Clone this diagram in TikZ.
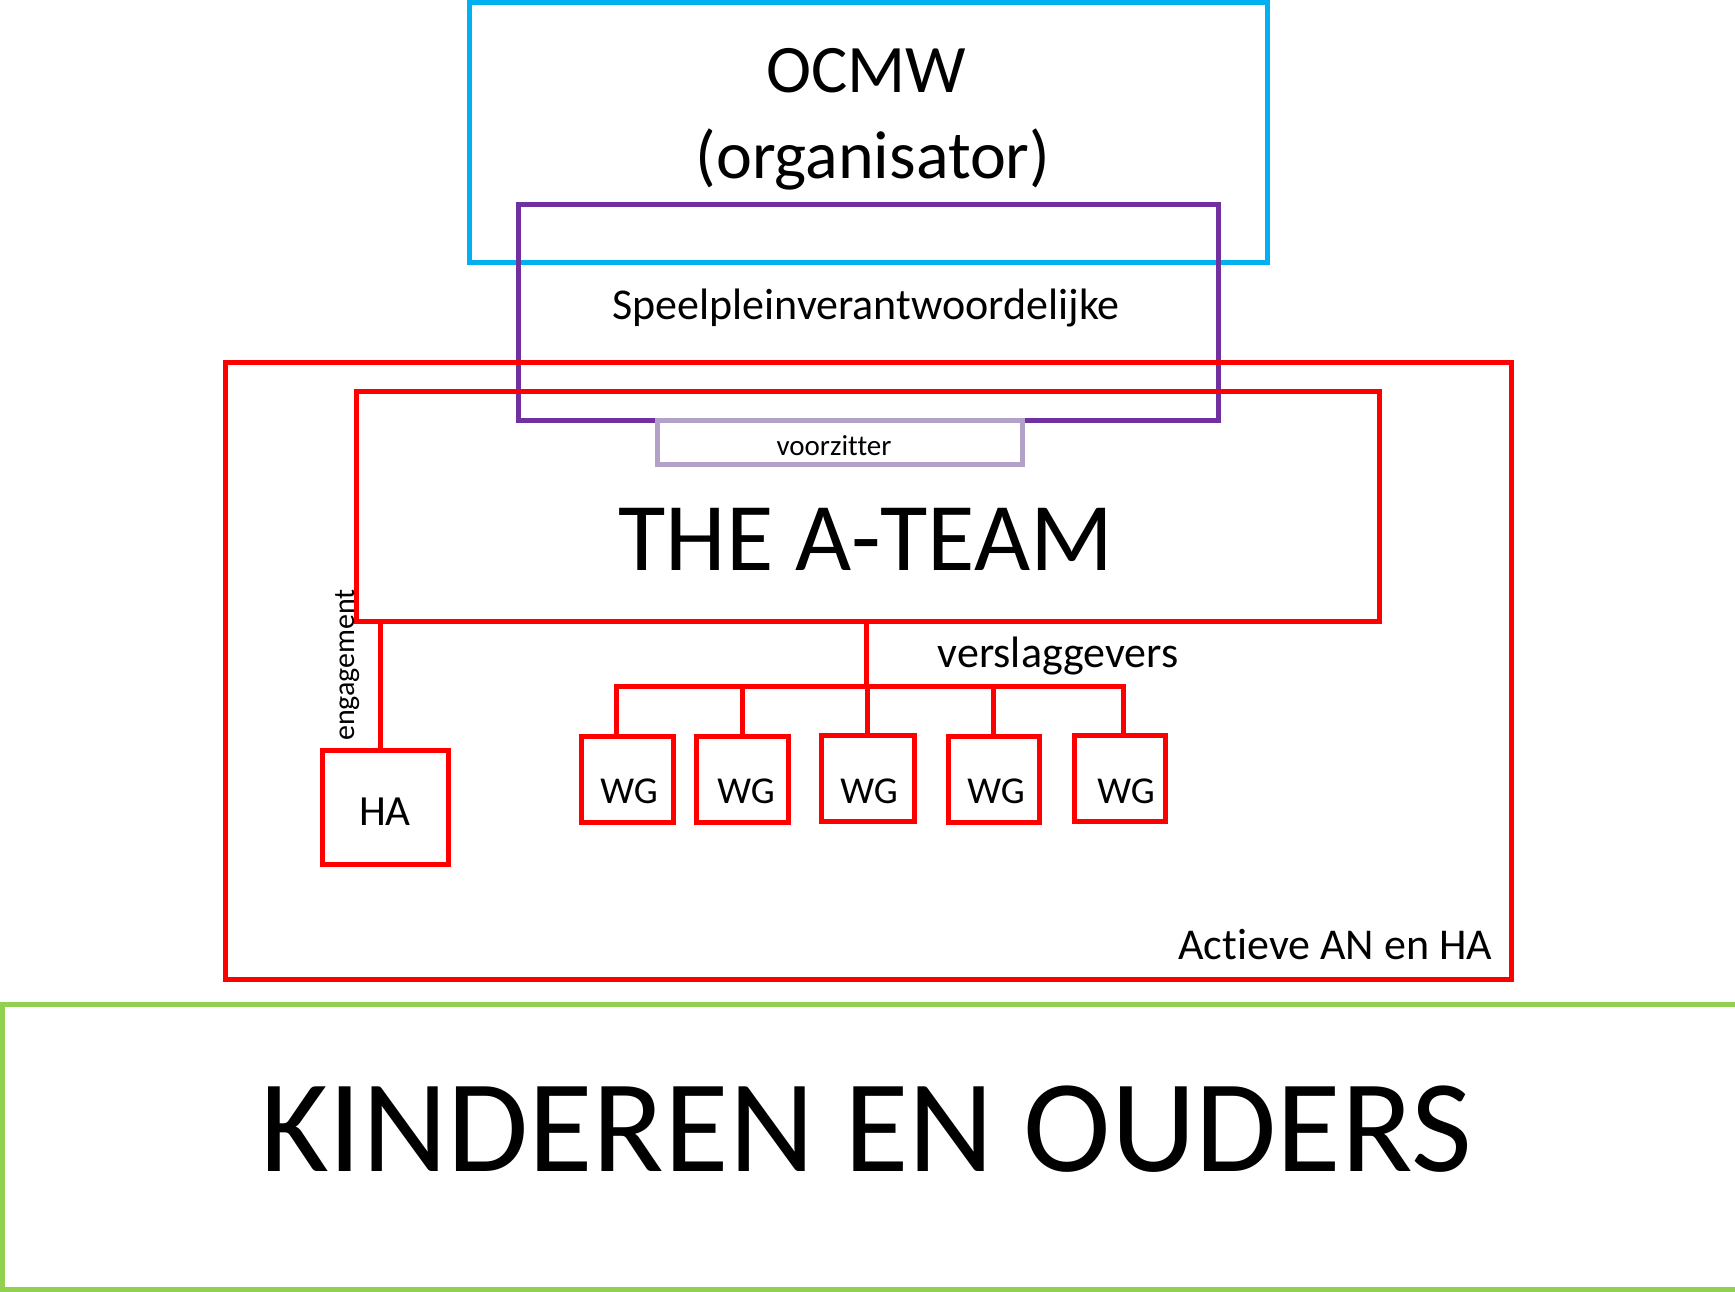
\documentclass[tikz,border=0pt]{standalone}
\usepackage{fontspec}
\setmainfont[Ligatures={NoCommon}]{Carlito}
\usetikzlibrary{calc}
\definecolor{cblue}{HTML}{00B0F0}
\definecolor{cpurple}{HTML}{7030A0}
\definecolor{cred}{HTML}{FF0000}
\definecolor{clilac}{HTML}{B3A2C7}
\definecolor{cgreen}{HTML}{92D050}
\tikzset{
  box/.style={draw=#1, line width=5pt, inner sep=0pt, outer sep=0pt, fill=none},
  link/.style={draw=cred, line width=5pt},
  txt/.style={inner sep=0pt, outer sep=0pt, anchor=base, text=black}
}
\begin{document}
\begin{tikzpicture}[x=1pt, y=-1pt]
\useasboundingbox (0,0) rectangle (1735,1292);
\fill[white] (0,0) rectangle (1735,1292);
% OCMW
\node[box=cblue, minimum width=798pt, minimum height=259pt] (ocmw) at (868,132.5) {};
% Speelpleinverantwoordelijke
\node[box=cpurple, minimum width=700pt, minimum height=215pt] (spv) at (868,312.5) {};
% Actieve AN en HA
\node[box=cred, minimum width=1286pt, minimum height=617pt] (act) at (868,670.5) {};
% A-team
\node[box=cred, minimum width=1023pt, minimum height=230pt] (team) at (867.5,506) {};
% voorzitter
\node[box=clilac, minimum width=365pt, minimum height=44pt] (vz) at (839.5,442) {};
% kinderen en ouders
\node[box=cgreen, minimum width=1735pt, minimum height=285pt] (kid) at (869.5,1146.5) {};
% WG boxes
\node[box=cred, minimum width=92pt, minimum height=86pt] (wg1) at (627,779) {};
\node[box=cred, minimum width=92pt, minimum height=86pt] (wg2) at (742,779) {};
\node[box=cred, minimum width=93pt, minimum height=86pt] (wg3) at (867.5,778) {};
\node[box=cred, minimum width=91pt, minimum height=86pt] (wg4) at (993.5,779) {};
\node[box=cred, minimum width=91pt, minimum height=86pt] (wg5) at (1119.5,778) {};
% HA box
\node[box=cred, minimum width=126pt, minimum height=114pt] (ha) at (385,807) {};
% connectors
\coordinate (busL) at (616,686);
\coordinate (busR) at (1123,686);
\coordinate (busM) at (866,686);
\draw[link] (team.south -| busM) -- (busM);
\draw[link, line cap=rect] (busL) -- (busR);
\draw[link] ($(wg1.north)+(-11,0)$) -- (busL);
\draw[link] (wg2.north) -- (wg2.north |- busL);
\draw[link] (wg3.north) -- (wg3.north |- busL);
\draw[link] (wg4.north) -- (wg4.north |- busL);
\draw[link] (busR) -- (busR |- wg5.north);
\coordinate (haTop) at (380,750);
\draw[link] (haTop) -- (haTop |- team.south);
% texts
\node[txt, font=\fontsize{68pt}{68pt}\selectfont] (t1) at (866,93) {OCMW};
\node[txt, font=\fontsize{68pt}{68pt}\selectfont] (t2) at (873,179) {(organisator)};
\node[txt, font=\fontsize{44pt}{44pt}\selectfont] (t3) at (866,319) {Speelpleinverantwoordelijke};
\node[txt, font=\fontsize{29pt}{29pt}\selectfont] (t4) at (834,455) {voorzitter};
\node[txt, font=\fontsize{97pt}{97pt}\selectfont] (t5) at (866,570) {THE A-TEAM};
\node[txt, font=\fontsize{44pt}{44pt}\selectfont] (t6) at (1058,667) {verslaggevers};
\node[txt, font=\fontsize{38pt}{38pt}\selectfont] (w1) at (629,803) {WG};
\node[txt, font=\fontsize{38pt}{38pt}\selectfont] (w2) at (746,803) {WG};
\node[txt, font=\fontsize{38pt}{38pt}\selectfont] (w3) at (869,803) {WG};
\node[txt, font=\fontsize{38pt}{38pt}\selectfont] (w4) at (996,803) {WG};
\node[txt, font=\fontsize{38pt}{38pt}\selectfont] (w5) at (1126,803) {WG};
\node[txt, font=\fontsize{43pt}{43pt}\selectfont] (t7) at (385,825) {HA};
\node[txt, anchor=base east, font=\fontsize{44pt}{44pt}\selectfont] (t8) at (1492,959) {Actieve AN en HA};
\node[txt, rotate=90, font=\fontsize{30pt}{30pt}\selectfont] (t9) at (354,665) {engagement};
\node[txt, font=\fontsize{132pt}{132pt}\selectfont] (t10) at (866,1171) {KINDEREN EN OUDERS};
\end{tikzpicture}
\end{document}
